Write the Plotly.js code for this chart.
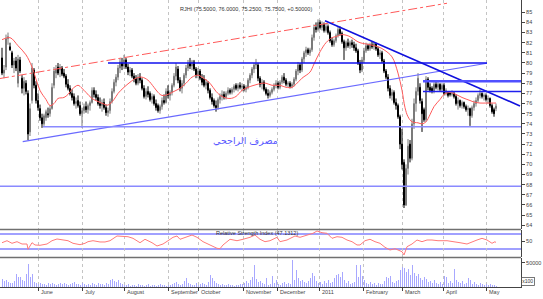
<!DOCTYPE html>
<html><head><meta charset="utf-8">
<script src="https://cdn.plot.ly/plotly-3.0.1.min.js"></script>
<style>html,body{margin:0;padding:0;background:#fff}#chart{width:543px;height:299px}</style>
</head><body><div id="chart"></div>
<script>
// ---- OHLC (one trading day per entry) ----
const open = [
80.5,79.0,79.6,82.4,81.6,81.0,79.8,80.2,78.0,80.3,
78.5,77.5,78.0,77.0,73.2,76.3,79.3,77.8,76.3,75.5,
74.6,74.0,74.6,75.0,75.0,75.5,77.8,79.0,79.6,79.3,
79.5,79.0,78.7,77.9,77.5,77.0,76.7,76.0,76.3,75.8,
75.0,75.3,75.7,75.4,75.8,76.1,77.3,76.9,76.6,76.0,
75.8,76.1,75.6,75.1,75.3,76.2,77.2,78.1,78.6,79.5,
80.0,79.7,80.3,79.6,79.1,79.3,78.7,78.5,78.0,78.6,
78.3,77.5,76.7,77.2,77.0,76.4,76.7,76.0,75.8,75.3,
75.7,76.3,76.1,77.2,76.8,77.1,77.8,78.7,79.4,78.3,
77.5,78.0,78.8,79.5,80.0,79.7,80.1,79.4,78.8,79.2,
78.5,78.4,77.8,78.0,77.3,76.6,76.3,75.8,75.6,76.4,
76.7,76.9,76.6,77.0,77.3,77.1,77.4,77.8,77.5,77.8,
77.6,77.7,77.4,77.6,78.3,78.8,79.4,79.8,79.8,78.5,
77.9,78.1,77.4,77.0,76.8,77.1,77.4,77.8,78.0,77.6,
78.1,78.6,78.3,77.9,78.0,77.7,77.9,78.4,79.2,79.8,
79.3,80.4,81.0,81.3,81.0,81.3,82.5,83.5,83.3,84.0,
83.5,83.8,83.2,83.6,83.0,82.2,81.8,82.2,82.7,83.3,
82.9,82.1,81.5,82.0,81.7,82.0,81.8,81.5,81.2,80.0,
79.3,80.3,81.2,81.7,81.4,81.8,81.6,81.9,81.4,80.8,
81.0,80.2,79.2,78.6,77.5,76.8,77.1,76.1,75.8,74.7,
72.0,70.2,66.0,69.6,72.0,70.6,74.0,76.0,77.2,77.6,
76.2,75.4,74.4,78.4,77.6,77.5,77.2,77.9,77.6,77.9,
77.4,77.8,77.0,77.1,77.1,76.9,77.0,76.7,76.0,76.3,
75.8,76.1,75.7,75.4,75.5,74.8,75.6,76.0,76.3,76.8,
77.0,76.7,76.8,76.4,76.5,75.8,75.4,75.5];
const high = [
81.5,79.8,82.8,83.0,82.0,81.2,80.5,80.6,80.8,80.6,
78.8,78.6,78.3,77.3,76.0,80.0,79.5,78.2,77.0,75.9,
75.0,75.0,75.4,75.6,75.8,78.0,79.6,79.8,80.0,79.9,
79.7,79.4,78.9,78.4,77.8,77.4,77.0,76.6,76.8,76.2,
75.6,76.0,76.2,76.0,76.3,77.6,77.6,77.3,76.9,76.6,
76.4,76.5,75.9,75.6,76.5,77.5,78.4,78.9,79.8,80.4,
80.5,80.8,80.5,79.9,79.6,79.5,79.0,78.8,78.9,79.0,
78.5,77.8,77.5,77.7,77.2,77.0,76.9,76.4,76.0,75.9,
76.6,76.9,77.5,77.8,77.3,78.0,79.0,80.0,79.7,78.6,
78.3,79.0,79.8,80.3,80.5,80.3,80.3,79.6,79.5,79.4,
78.9,78.8,78.4,78.2,77.5,77.0,76.5,76.3,76.6,77.0,
77.3,77.2,77.2,77.6,77.5,77.6,77.9,78.0,78.0,78.1,
78.0,77.9,77.8,78.5,79.0,79.6,80.0,80.4,80.0,78.7,
78.4,78.3,77.6,77.4,77.3,77.6,78.0,78.3,78.2,78.3,
78.8,79.0,78.5,78.2,78.2,78.1,78.6,79.4,80.1,80.0,
80.6,81.2,81.6,81.5,81.5,82.8,83.8,84.0,84.3,84.2,
84.1,84.0,83.9,83.8,83.2,82.5,82.4,82.9,83.6,83.6,
83.1,82.3,82.2,82.4,82.2,82.3,82.1,81.9,81.4,80.3,
80.6,81.5,82.0,81.9,82.0,82.1,82.0,82.0,81.6,81.3,
81.2,80.4,79.4,78.9,77.8,77.4,77.3,76.5,76.0,74.9,
73.5,70.5,70.0,72.5,72.4,74.5,76.5,77.6,79.0,78.0,
76.5,75.6,78.7,78.6,78.0,77.7,78.1,78.2,78.1,78.0,
78.0,78.0,77.5,77.2,77.2,77.3,77.2,76.9,76.6,76.4,
76.3,76.2,75.9,75.8,75.6,75.8,76.3,76.6,77.0,77.4,
77.1,77.0,77.0,76.8,76.6,76.0,75.6,76.0];
const low = [
78.8,78.5,79.3,81.8,81.2,79.5,79.0,79.2,77.6,79.0,
77.0,76.8,76.9,72.4,72.8,76.0,77.5,76.0,75.3,74.3,
73.6,73.8,74.3,74.6,74.7,75.4,77.5,78.5,78.8,78.6,
78.7,78.5,77.6,77.3,76.8,76.3,75.8,75.5,75.6,74.8,
73.6,75.0,75.1,75.0,75.3,76.0,76.6,76.3,75.8,75.5,
75.2,75.4,74.8,74.7,75.0,76.0,77.0,77.7,78.3,79.0,
79.3,79.4,79.4,78.8,78.7,78.5,78.1,77.8,77.8,78.0,
77.3,76.5,76.4,76.6,76.2,76.0,75.8,75.3,75.1,75.0,
75.4,75.9,76.0,76.5,76.3,76.8,77.6,78.3,78.0,77.2,
77.0,77.7,78.5,79.2,79.4,79.3,79.2,78.5,78.5,78.3,
77.8,77.6,77.4,77.0,76.4,75.9,75.6,75.2,75.4,76.0,
76.3,76.4,76.4,76.8,76.9,76.9,77.1,77.3,77.2,77.4,
77.2,77.2,77.1,77.4,78.0,78.5,79.0,79.4,78.2,77.6,
77.4,77.2,76.8,76.5,76.6,76.9,77.2,77.5,77.4,77.4,
77.9,78.0,77.7,77.6,77.5,77.5,77.7,78.2,78.8,79.0,
79.1,80.0,80.6,80.8,80.7,81.1,82.2,83.0,83.1,83.3,
83.2,83.0,83.0,82.8,82.0,81.6,81.6,82.0,82.5,82.7,
81.9,80.3,81.2,81.5,81.4,81.5,81.2,81.0,79.8,79.0,
79.1,80.0,81.0,81.2,81.2,81.4,81.3,81.2,80.6,80.4,
80.0,79.0,78.4,77.2,76.5,76.3,75.9,75.4,74.5,71.5,
69.5,65.7,65.9,69.0,70.2,70.4,73.5,75.2,76.8,76.0,
73.2,74.2,74.2,77.3,77.1,77.0,77.0,77.4,77.3,77.2,
77.1,76.8,76.8,76.6,76.7,76.7,76.5,75.8,75.4,75.6,
75.5,75.5,75.2,74.8,73.8,74.6,75.3,75.7,76.1,76.5,
76.5,76.3,76.2,76.0,75.6,75.0,74.7,75.25];
const close = [
79.0,79.3,82.4,82.6,81.3,79.8,80.2,79.5,80.4,79.2,
77.5,78.2,77.2,73.0,75.5,79.5,77.8,76.3,75.6,74.6,
74.0,74.8,75.2,74.9,75.5,77.6,79.2,79.4,79.0,79.6,
78.9,78.7,77.9,77.5,77.0,76.6,76.0,76.2,75.8,75.0,
75.3,75.7,75.4,75.8,76.1,77.3,76.9,76.6,76.0,75.8,
76.1,75.6,75.1,75.3,76.2,77.2,78.1,78.6,79.5,80.1,
79.7,80.3,79.6,79.1,79.3,78.7,78.4,78.0,78.6,78.3,
77.5,76.7,77.2,76.9,76.4,76.7,76.0,75.6,75.3,75.7,
76.3,76.1,77.2,76.8,77.1,77.8,78.7,79.6,78.3,77.5,
78.0,78.8,79.5,80.0,79.7,80.1,79.4,78.8,79.2,78.5,
78.1,77.8,78.1,77.3,76.6,76.2,75.8,75.6,76.4,76.7,
76.9,76.6,77.0,77.3,77.1,77.4,77.7,77.5,77.8,77.6,
77.7,77.4,77.6,78.3,78.8,79.4,79.8,79.9,78.5,77.9,
78.1,77.4,77.0,76.8,77.1,77.4,77.8,78.0,77.6,78.1,
78.6,78.3,77.9,78.0,77.7,77.9,78.4,79.2,79.8,79.3,
80.4,81.0,81.3,81.0,81.3,82.5,83.5,83.3,84.0,83.5,
83.8,83.2,83.6,83.0,82.2,81.8,82.2,82.7,83.3,82.9,
82.1,81.5,82.0,81.7,82.0,81.8,81.5,81.2,80.0,79.3,
80.3,81.2,81.7,81.4,81.8,81.6,81.9,81.4,80.8,81.0,
80.2,79.2,78.6,77.5,76.8,77.1,76.1,75.8,74.7,72.0,
70.0,66.0,69.6,71.8,70.6,74.0,76.0,77.2,78.5,76.3,
75.0,74.4,78.4,77.6,77.3,77.2,77.9,77.6,77.9,77.4,
77.8,77.0,77.3,76.8,76.9,77.0,76.7,76.0,76.3,75.8,
76.1,75.7,75.4,75.5,74.8,75.6,76.0,76.3,76.8,77.0,
76.7,76.8,76.4,76.5,75.8,75.2,75.0,75.75];
// ---- volume, thousands ----
const volume = [
16,12,14,10,8,9,12,27,20,20,
14,12,27,47,20,27,10,8,6,9,
7,6,5,8,7,9,6,5,7,8,
6,9,7,5,6,8,10,6,7,5,
8,6,4,7,5,8,6,5,9,7,
6,5,8,7,14,16,12,10,15,8,
6,5,4,6,3,5,4,3,6,4,
5,3,4,6,3,4,5,3,4,6,
5,4,3,5,4,6,8,10,7,5,
6,12,18,9,6,5,4,8,5,6,
9,7,5,10,24,18,12,8,6,5,
7,4,5,6,4,5,3,4,5,7,
6,8,12,9,14,20,45,16,10,12,
8,6,18,5,7,22,9,14,6,5,
8,10,6,8,7,56,14,34,18,12,
15,10,8,12,18,28,22,12,8,10,
6,12,9,14,8,10,18,25,27,20,
30,14,9,12,6,8,10,45,20,46,
22,14,9,7,10,6,8,5,9,7,
6,12,20,18,22,10,8,12,15,35,
41,40,30,38,25,45,28,22,26,18,
14,20,16,10,12,8,14,9,7,10,
6,22,20,9,12,8,38,15,10,8,
12,6,9,18,14,7,10,6,5,8,
6,4,7,5,6,4,5,3];
// ---- moving average ----
const maIdx = [0,4,8,12,15,19,22,24,26,28,31,33,35,38,40,42,45,48,51,53,56,58,61,64,67,70,73,76,78,80,83,86,89,92,95,98,100,104,107,110,114,117,120,123,126,130,132,135,139,142,145,147,150,154,156,159,162,165,167,170,174,177,179,184,188,191,195,198,200,201.5,203,205,208,210,212,214,216,219,221,224,227,230,234,236,239,242,245,247];
const maVal = [82.3,82.5,81.7,80.8,79.6,77.3,76.4,75.8,76.0,76.5,76.6,76.9,77.4,77.8,77.5,77.1,76.5,76.2,75.95,75.85,76.4,77.0,77.6,78.1,78.5,78.6,78.3,77.6,77.1,76.8,76.9,77.2,77.5,78.0,78.6,78.8,78.6,78.0,77.2,76.7,76.5,76.7,77.3,77.6,77.8,78.0,78.0,77.8,77.8,77.6,77.6,77.9,78.5,79.1,79.9,81.1,82.0,82.5,82.6,82.8,82.6,82.2,82.0,81.8,81.6,81.3,80.6,79.0,77.3,75.6,74.7,74.2,74.1,74.0,74.2,74.9,75.7,76.4,76.9,77.1,76.9,76.6,76.3,76.15,76.05,76.05,76.05,76.05];
// ---- RSI ----
const rsiIdx = [0,2.5,5,7.5,10,12.5,13,15,16.5,19,22.5,25,27.5,30.5,33,35.5,39,41.5,43,45.5,49,51.5,54,57.5,60.5,63,65.5,69,71.5,75,77.5,80.5,83,85.5,87.5,89,95,97.5,100.5,104,107.5,109,110.5,114,117.5,120.5,124,126.5,129,131.5,134,137.5,139,142.5,146.5,149,153,155.5,157.5,160,162.5,165,167.5,170,172.5,175,177.5,179,181.5,184,186.5,189,191.5,194,196.5,198,200,201,202.5,205,207.5,210,212.5,215,218,222.5,226.5,229,232.5,235,237.5,240,242.5,245,246.5,247];
const rsiVal = [46.8,52.1,45.2,49.5,43.3,43.3,29.2,46.8,40.7,39.9,43.3,52.1,56.7,54,52.1,45.2,41.5,45.2,49.5,52.1,48.7,48.7,52.1,64.7,64.7,62.8,58.5,46.8,55.9,46.8,38,43.3,52.1,61.2,64.7,55.9,67.3,61.2,49.5,40.7,31.9,30.8,40.7,55.9,52.1,55.9,61.2,67.3,55.9,49.5,52.1,61.2,49.5,54,64.7,61.2,67.3,71.9,78,73.5,71.9,58.5,62.8,61.2,54,49.5,40.7,40.7,52.1,55.9,49.5,45.2,34.5,27.3,30.8,27.3,22.8,14,36.1,43.3,54,49.5,54,54,52.1,52.1,49.5,46.8,43.3,49.5,54,58.5,54,45.2,49.5,47.1];
// ---- month labels ----
const monthNames = ['June','July','August','September','October','November','December','2011','February','March','April','May'];
const monthPos = [18,40,61,83,98,120.5,137.5,158.5,180.5,200,220.5,242];
const priceTicks = [64,65,66,67,68,69,70,71,72,73,74,75,76,77,78,79,80,81,82,83,84,85];
// ---- drawn lines [x0, price0, x1, price1] ----
const trendLines = [
  [-1, 78.47, 222.5, 85.89],
  [10.35, 72.24, 242.5, 79.97],
  [53, 80.0, 242.5, 80.0],
  [161.5, 84.17, 259, 75.76],
  [210.5, 78.2, 259.5, 78.2],
  [210.5, 77.2, 259.5, 77.2],
  [20.5, 73.7, 259.5, 73.7],
  [-1, 67.85, 259.5, 67.85]
];
const trendStyles = [
  {color:'#ff5a5a', width:1, dash:'dashdot'},
  {color:'#6a6aff', width:1.2},
  {color:'#1010ee', width:1.6},
  {color:'#1010dd', width:1.6},
  {color:'#5050ff', width:2.6},
  {color:'#2020ee', width:1.5},
  {color:'#8a8aff', width:1.5},
  {color:'#8a8aff', width:1.5}
];

const idx = close.map((_, i) => i);
const fnt = {family:'Liberation Sans, Arial, sans-serif', size:5.5, color:'#444'};

const traces = [
  {type:'candlestick', x:idx, open:open, high:high, low:low, close:close, xaxis:'x', yaxis:'y',
   increasing:{line:{color:'#7a7a7a', width:1}, fillcolor:'#ffffff'},
   decreasing:{line:{color:'#000000', width:1}, fillcolor:'#000000'},
   whiskerwidth:0, hoverinfo:'none'},
  {type:'scatter', mode:'lines', x:maIdx, y:maVal, xaxis:'x', yaxis:'y',
   line:{color:'#ff5a5a', width:1, shape:'spline'}, hoverinfo:'none'},
  {type:'scatter', mode:'lines', x:rsiIdx, y:rsiVal, xaxis:'x', yaxis:'y2',
   line:{color:'#ff7a7a', width:1}, hoverinfo:'none'},
  {type:'bar', x:idx, y:volume, xaxis:'x', yaxis:'y3', width:0.5,
   marker:{color:'#a8a8ff', line:{width:0}}, hoverinfo:'none'}
];

const shapes = [];
trendLines.forEach((t, k) => {
  shapes.push({type:'line', xref:'x', yref:'y', x0:t[0], y0:t[1], x1:t[2], y1:t[3], line:trendStyles[k], layer:'above'});
});
[70, 30].forEach(v => shapes.push({type:'line', xref:'paper', yref:'y2', x0:0, x1:1, y0:v, y1:v, line:{color:'#a0a0ff', width:2}, layer:'below'}));
shapes.push({type:'line', xref:'paper', yref:'y2 domain', x0:0, x1:1, y0:1, y1:1, line:{color:'#707070', width:1.5}});
shapes.push({type:'line', xref:'paper', yref:'y2 domain', x0:0, x1:1, y0:0, y1:0, line:{color:'#707070', width:1.5}});

const annotations = monthNames.map((m, k) => ({
  text:m, x:monthPos[k], xref:'x', y:-0.016, yref:'paper', xanchor:'left', yanchor:'middle',
  xshift:1, showarrow:false, font:fnt
}));
annotations.push({text:'RJHI (75.5000, 76.0000, 75.2500, 75.7500, +0.50000)', xref:'paper', yref:'paper',
  x:0.472, y:0.967, showarrow:false, xanchor:'center', yanchor:'middle', font:{family:fnt.family, size:5.5, color:'#333'}});
annotations.push({text:'Relative Strength Index (47.1312)', xref:'paper', yref:'paper',
  x:0.493, y:0.188, showarrow:false, xanchor:'center', yanchor:'middle', font:{family:fnt.family, size:5.5, color:'#333'}});
annotations.push({text:'مصرف الراجحي', xref:'paper', yref:'paper', x:0.472, y:0.509, showarrow:false,
  xanchor:'center', yanchor:'middle', font:{family:'DejaVu Sans, Noto Sans, sans-serif', size:9.5, color:'#5a5aff'}});
annotations.push({text:'x100', xref:'paper', yref:'paper', x:1.0, y:0.02, showarrow:false, xanchor:'left', yanchor:'middle',
  font:{family:fnt.family, size:5, color:'#333'}, bordercolor:'#555', borderwidth:0.8, borderpad:0.5});

const yCommon = {side:'right', anchor:'x', ticks:'outside', ticklen:3, tickcolor:'#444', tickfont:fnt,
  showline:true, linecolor:'#444', linewidth:1, showgrid:false, zeroline:false, fixedrange:true};

const layout = {
  width:543, height:299, margin:{l:0, r:22, t:0, b:12},
  paper_bgcolor:'#ffffff', plot_bgcolor:'#ffffff', showlegend:false, bargap:0,
  xaxis:{range:[-1, 259.5], anchor:'y3', tickvals:monthPos, showticklabels:false, ticks:'outside', ticklen:3,
    tickcolor:'#444', showline:true, linecolor:'#444', linewidth:1, showgrid:true, gridcolor:'#c4c4c4',
    griddash:'dot', gridwidth:1, zeroline:false, rangeslider:{visible:false}, fixedrange:true},
  yaxis:Object.assign({}, yCommon, {domain:[0.2021, 1], range:[63.63, 86.21], tickvals:priceTicks}),
  yaxis2:Object.assign({}, yCommon, {domain:[0.1028, 0.2003], range:[7.3, 82], tickvals:[50]}),
  yaxis3:Object.assign({}, yCommon, {domain:[0, 0.101], range:[0, 59.7], tickvals:[50], ticktext:['50000']}),
  shapes:shapes, annotations:annotations
};

Plotly.newPlot('chart', traces, layout, {staticPlot:true, displayModeBar:false});
</script></body></html>
